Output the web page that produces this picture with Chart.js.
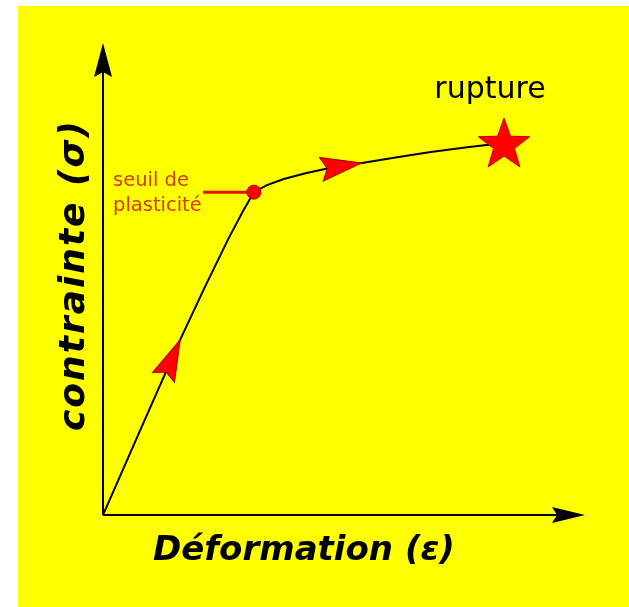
<!DOCTYPE html>
<html>
<head>
<meta charset="utf-8">
<script src="https://cdn.jsdelivr.net/npm/chart.js@4"></script>
<style>
  html, body { margin: 0; padding: 0; background: #fff; }
  canvas { display: block; }
</style>
</head>
<body>
<canvas id="grafico" width="629" height="607"></canvas>
<script>
const deformation = [0, 0.80, 1.60, 2.10, 2.60, 2.90, 3.13, 3.40, 3.75, 4.20, 4.75, 5.37, 6.10, 6.80, 7.55, 8.32];
const contrainte = [0, 1.86, 3.71, 4.80, 5.85, 6.43, 6.84, 6.99, 7.12, 7.24, 7.36, 7.46, 7.58, 7.69, 7.79, 7.88];
const indiceSeuil = 6;
const indicesFleches = [2, 11];
const libelleX = 'Déformation (ε)';
const libelleY = 'contrainte (σ)';
const libelleSeuil = ['seuil de', 'plasticité'];
const libelleRupture = 'rupture';

// Flèche avec encoche (pointe en (x,y), direction angle)
function fleche(ctx, x, y, angle, long, demi, encoche, couleur, contour) {
  ctx.save();
  ctx.translate(x, y);
  ctx.rotate(angle);
  ctx.beginPath();
  ctx.moveTo(0, 0);
  ctx.lineTo(-long, -demi);
  ctx.lineTo(-long + encoche, 0);
  ctx.lineTo(-long, demi);
  ctx.closePath();
  ctx.fillStyle = couleur;
  ctx.fill();
  if (contour) {
    ctx.strokeStyle = contour;
    ctx.lineWidth = 1;
    ctx.stroke();
  }
  ctx.restore();
}

function etoile(ctx, cx, cy, rExt, rInt) {
  ctx.beginPath();
  for (let i = 0; i < 10; i++) {
    const r = i % 2 === 0 ? rExt : rInt;
    const a = -Math.PI / 2 + i * Math.PI / 5;
    const px = cx + r * Math.cos(a), py = cy + r * Math.sin(a);
    if (i === 0) ctx.moveTo(px, py); else ctx.lineTo(px, py);
  }
  ctx.closePath();
  ctx.fillStyle = '#ff0000';
  ctx.fill();
  ctx.strokeStyle = '#c00000';
  ctx.lineWidth = 1;
  ctx.stroke();
}

const decor = {
  id: 'decor',
  beforeDraw(chart) {
    const ctx = chart.ctx;
    ctx.save();
    ctx.fillStyle = '#ffffff';
    ctx.fillRect(0, 0, chart.width, chart.height);
    ctx.fillStyle = '#ffff00';
    ctx.fillRect(18, 6, chart.width - 18, chart.height - 6);
    ctx.restore();
  },
  beforeDatasetsDraw(chart) {
    const ctx = chart.ctx;
    const a = chart.chartArea;
    const sx = chart.scales.x, sy = chart.scales.y;
    ctx.save();
    // axes
    ctx.strokeStyle = '#000';
    ctx.lineWidth = 2;
    ctx.beginPath();
    ctx.moveTo(a.left, a.bottom);
    ctx.lineTo(a.left, a.top + 20);
    ctx.moveTo(a.left, a.bottom);
    ctx.lineTo(a.right - 20, a.bottom);
    ctx.stroke();
    fleche(ctx, a.left, a.top, -Math.PI / 2, 34, 9, 5, '#000');
    fleche(ctx, a.right, a.bottom, 0, 33, 8, 5, '#000');

    // trait vers le seuil
    const yx = sx.getPixelForValue(deformation[indiceSeuil]);
    const yy = sy.getPixelForValue(contrainte[indiceSeuil]);
    ctx.strokeStyle = '#e01000';
    ctx.lineWidth = 3;
    ctx.beginPath();
    ctx.moveTo(203, yy);
    ctx.lineTo(yx, yy);
    ctx.stroke();
    ctx.restore();
  },
  afterDatasetsDraw(chart) {
    const ctx = chart.ctx;
    const sx = chart.scales.x, sy = chart.scales.y;
    const pts = deformation.map((d, i) => [sx.getPixelForValue(d), sy.getPixelForValue(contrainte[i])]);
    ctx.save();
    // flèches sur la courbe
    indicesFleches.forEach(i => {
      const p0 = pts[i - 1], p1 = pts[i];
      const ang = Math.atan2(p1[1] - p0[1], p1[0] - p0[0]);
      fleche(ctx, p1[0], p1[1], ang, 41, 12, 6, '#ff0000', '#a00000');
    });
    // étoile de rupture
    const r = pts[pts.length - 1];
    etoile(ctx, r[0], r[1] + 2, 27, 11);

    // textes
    ctx.fillStyle = '#000';
    ctx.font = '30px "DejaVu Sans"';
    ctx.textAlign = 'center';
    ctx.textBaseline = 'alphabetic';
    ctx.fillText(libelleRupture, 490, 98);

    ctx.fillStyle = '#d23c00';
    ctx.font = '19.5px "DejaVu Sans"';
    ctx.textAlign = 'left';
    ctx.fillText(libelleSeuil[0], 113, 186);
    ctx.fillText(libelleSeuil[1], 113, 211);

    ctx.fillStyle = '#000';
    ctx.font = 'italic bold 34px "DejaVu Sans"';
    ctx.textAlign = 'left';
    ctx.fillText(libelleX, 153, 560);

    ctx.save();
    ctx.translate(84, 275);
    ctx.rotate(-Math.PI / 2);
    ctx.font = 'italic bold 36px "DejaVu Sans"';
    ctx.letterSpacing = '2px';
    ctx.textAlign = 'center';
    ctx.fillText(libelleY, 0, 0);
    ctx.restore();
    ctx.restore();
  }
};

new Chart(document.getElementById('grafico').getContext('2d'), {
  type: 'scatter',
  data: {
    datasets: [{
      data: deformation.map((d, i) => ({ x: d, y: contrainte[i] })),
      showLine: true,
      tension: 0,
      borderColor: '#000',
      borderWidth: 2,
      pointRadius: deformation.map((d, i) => i === indiceSeuil ? 7 : 0),
      pointBackgroundColor: '#ff0000',
      pointBorderColor: '#a00000',
      pointBorderWidth: 1
    }]
  },
  options: {
    responsive: false,
    animation: false,
    layout: { padding: { left: 103, right: 44, top: 43, bottom: 92 } },
    plugins: { legend: { display: false }, tooltip: { enabled: false } },
    scales: {
      x: { type: 'linear', min: 0, max: 10, display: false },
      y: { type: 'linear', min: 0, max: 10, display: false }
    }
  },
  plugins: [decor]
});
</script>
</body>
</html>
